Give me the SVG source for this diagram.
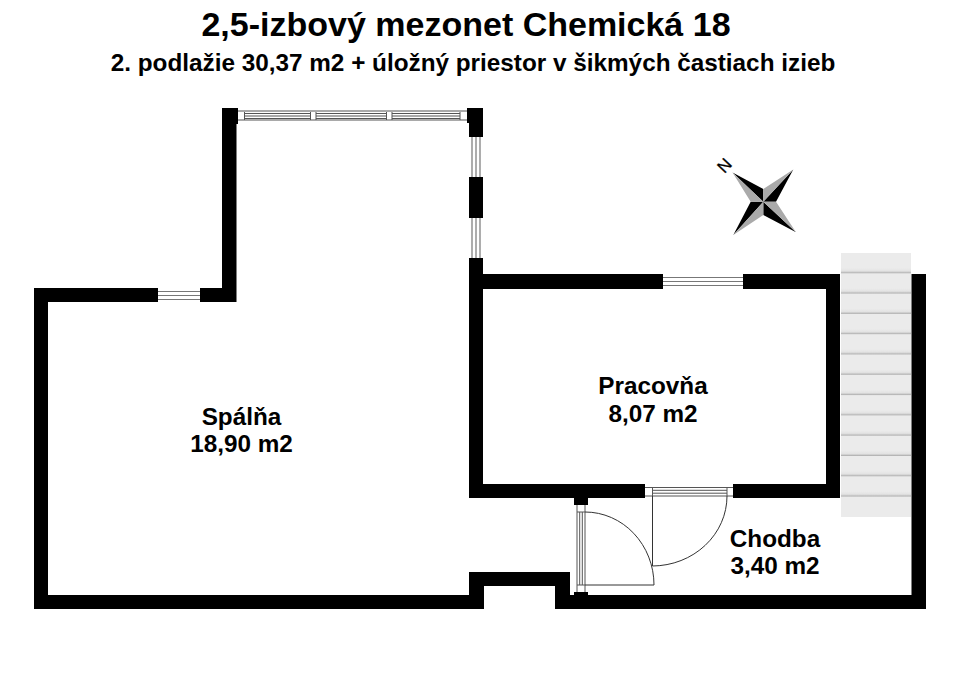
<svg xmlns="http://www.w3.org/2000/svg" width="960" height="678" viewBox="0 0 960 678">
<defs>
<linearGradient id="tread" x1="0" y1="0" x2="0" y2="1">
<stop offset="0" stop-color="#ebebeb"/><stop offset="0.6" stop-color="#e2e2e2"/><stop offset="1" stop-color="#a8a8a8"/>
</linearGradient>
<pattern id="steps" patternUnits="userSpaceOnUse" x="841" y="253" width="70" height="20.300">
<rect width="70" height="20.300" fill="#ebebeb"/>
<rect y="15" width="70" height="5.300" fill="url(#tread)"/>
</pattern>
</defs>
<style>
text{font-family:"Liberation Sans",Arial,sans-serif;font-weight:700;fill:#000;text-anchor:middle}
.t1{font-size:34px}.t2{font-size:24.300px}.r{font-size:24.300px}
.w{fill:#000}
.g{fill:none;stroke:#555;stroke-width:1}
.g2{fill:none;stroke:#777;stroke-width:1.200}
.s{fill:#ebebeb}
.l{fill:none;stroke:#333;stroke-width:1}
</style>
<rect width="960" height="678" fill="#fff"/>
<g id="title">
<text class="t1" x="466" y="36">2,5-izbový mezonet Chemická 18</text>
<text class="t2" x="473" y="70.500">2. podlažie 30,37 m2 + úložný priestor v šikmých častiach izieb</text>
</g>
<g id="walls">
<path class="w" d="M34 288H158V302H48V595H469V572H570V595H574V592H588V595H911.500V274H926V609H555V586H484V609H34Z"/>
<path class="w" d="M200 288H222V108H238V124H236.500V302H200Z"/>
<path class="w" d="M467 108H483V137H469V123H467Z"/>
<rect class="w" x="469" y="177" width="14" height="41"/>
<path class="w" d="M469 258H483V274H663V289H483V484H645V498H588V505H574V498H469Z"/>
<path class="w" d="M743 274H840V498H733V484H826V289H743Z"/>
</g>
<g id="window-top">
<path class="g" d="M238 111H467M238 120H467"/>
<path class="g" d="M244.500 112V120M310.500 112V120M316 112V120M386.500 112V120M392 112V120M460 112V120"/>
<path class="g" d="M245 113.500H310M245 116H310M245 118.500H310M316 113.500H386M316 116H386M316 118.500H386M392 113.500H460M392 116H460M392 118.500H460"/>
</g>
<g id="window-east">
<path class="g2" d="M472 137V177M476 137V177M480 137V177M472 218V258M476 218V258M480 218V258"/>
</g>
<g id="window-west">
<path class="g2" d="M158 291.500H200M158 295.500H200M158 299.500H200"/>
</g>
<g id="window-north">
<path class="g2" d="M663 277.500H743M663 281.500H743M663 285.500H743"/>
</g>
<g id="door-north">
<path class="g" d="M645 487.500H733M645 496H733"/>
<path class="g" d="M652.500 488V496M727 488V496M652.500 490.300H727M652.500 493.200H727"/>
<path class="l" d="M652.500 496V566A75 70 0 0 0 727 496"/>
</g>
<g id="door-west">
<path class="g" d="M577 505V592M585 505V592"/>
<path class="g" d="M577 512H585M577 585H585M579.700 512V585M582.300 512V585"/>
<path class="l" d="M585 512A69 73 0 0 1 654 585H585"/>
</g>
<g id="stairs">
<rect x="841" y="253" width="70" height="264" fill="url(#steps)"/>
<rect class="s" x="841" y="498" width="70" height="19"/>
</g>
<g id="compass">
<path fill="#000" d="M732.500 172.500L763.300 189V201.700ZM793.300 169.500L776 201.700H763.300ZM796 232.300L763.300 215V201.700ZM733.300 235L750.700 201.700H763.300Z"/>
<path fill="#aaa" d="M732.500 172.500L750.700 201.700H763.300ZM793.300 169.500L763.300 189V201.700ZM796 232.300L776 201.700H763.300ZM733.300 235L763.300 215V201.700Z"/>
<text transform="translate(724.500 165.500) rotate(-47)" y="5.800" style="font-size:17px;font-weight:400;stroke:#000;stroke-width:.3">N</text>
</g>
<g id="room-spalna"><text class="r" x="241.500" y="424.500">Spálňa</text><text class="r" x="241.500" y="452">18,90 m2</text></g>
<g id="room-pracovna"><text class="r" x="653" y="393.500">Pracovňa</text><text class="r" x="653" y="421.500">8,07 m2</text></g>
<g id="room-chodba"><text class="r" x="775" y="546.500">Chodba</text><text class="r" x="775" y="573.500">3,40 m2</text></g>
</svg>
